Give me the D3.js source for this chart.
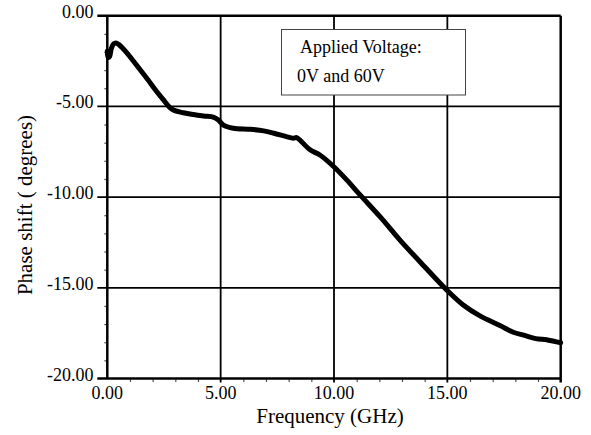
<!DOCTYPE html>
<html>
<head>
<meta charset="utf-8">
<script src="https://cdn.jsdelivr.net/npm/d3@7"></script>
<style>
  body { margin: 0; background: #fff; }
  text { font-family: "Liberation Serif", "Times New Roman", serif; fill: #000; }
</style>
</head>
<body>
<script>
// values
var freq  = [0.00, 0.04, 0.10, 0.18, 0.28, 0.38, 0.50, 0.70, 0.90, 1.15, 1.45, 1.80, 2.10, 2.45, 2.75, 2.95,
             3.35, 3.80, 4.25, 4.70, 4.90, 5.12, 5.56, 6.30, 6.90, 7.35, 7.90, 8.20, 8.35, 8.50, 8.93, 9.38,
             9.97, 10.56, 11.15, 12.03, 12.91, 13.79, 14.97, 15.70, 16.44, 17.32, 17.91, 18.40, 18.90, 19.38, 19.70, 20.00];
var phase = [-1.95, -2.30, -2.25, -1.80, -1.55, -1.50, -1.58, -1.82, -2.10, -2.50, -2.98, -3.55, -4.05, -4.60, -5.05, -5.22,
             -5.35, -5.45, -5.53, -5.60, -5.75, -6.03, -6.20, -6.26, -6.35, -6.48, -6.67, -6.75, -6.72, -6.86, -7.38, -7.68,
             -8.30, -9.05, -9.88, -11.08, -12.37, -13.56, -15.12, -15.95, -16.55, -17.08, -17.45, -17.62, -17.80, -17.86, -17.95, -18.03];

var xTicks = [0, 5, 10, 15, 20];
var xTickLabels = ['0.00', '5.00', '10.00', '15.00', '20.00'];
var yTicks = [0, -5, -10, -15, -20];
var yTickLabels = ['0.00', '-5.00', '-10.00', '-15.00', '-20.00'];
var legendLines = ['Applied Voltage:', '0V and 60V'];

var W = 591, H = 435;
// plot edges (note: "top" is a reserved window property, so use other names)
var pLeft = 107.3, pTop = 15.7, pRight = 560.7, pBottom = 378.5;

var x = d3.scaleLinear().domain([0, 20]).range([pLeft, pRight]);
var y = d3.scaleLinear().domain([-20, 0]).range([pBottom, pTop]);

var svg = d3.select('body').append('svg')
    .attr('width', W)
    .attr('height', H);

// minor ticks every 1 unit
var minorX = d3.range(0, 21).filter(function(d) { return d % 5 != 0; });
var minorY = d3.range(-20, 1).filter(function(d) { return d % 5 != 0; });

svg.append('g')
    .attr('transform', 'translate(0,' + pBottom + ')')
    .call(d3.axisBottom(x).tickValues(minorX).tickSize(3.5).tickFormat(''))
    .call(function(g) { g.select('.domain').remove(); })
    .selectAll('line').attr('stroke', '#555').attr('stroke-width', 1.2);

svg.append('g')
    .attr('transform', 'translate(' + pLeft + ',0)')
    .call(d3.axisLeft(y).tickValues(minorY).tickSize(3).tickFormat(''))
    .call(function(g) { g.select('.domain').remove(); })
    .selectAll('line').attr('stroke', '#555').attr('stroke-width', 1.2);

// grid lines, including the frame
svg.append('g').selectAll('line')
    .data(xTicks)
    .enter().append('line')
    .attr('x1', function(d) { return x(d); })
    .attr('x2', function(d) { return x(d); })
    .attr('y1', pTop)
    .attr('y2', function(d) { return d == 0 ? pBottom : pBottom + 4; })
    .attr('stroke', '#000')
    .attr('stroke-width', function(d) { return (d == 0 || d == 20) ? 2.5 : 1.8; });

svg.append('g').selectAll('line')
    .data(yTicks)
    .enter().append('line')
    .attr('x1', pLeft - 10)
    .attr('x2', pRight)
    .attr('y1', function(d) { return y(d); })
    .attr('y2', function(d) { return y(d); })
    .attr('stroke', '#000')
    .attr('stroke-width', function(d) { return (d == 0 || d == -20) ? 2.5 : 1.8; });

// tick labels
svg.append('g').selectAll('text')
    .data(xTicks)
    .enter().append('text')
    .attr('x', function(d) { return x(d); })
    .attr('y', 398.5)
    .attr('text-anchor', 'middle')
    .style('font-size', '18px')
    .text(function(d, i) { return xTickLabels[i]; });

svg.append('g').selectAll('text')
    .data(yTicks)
    .enter().append('text')
    .attr('x', 93.5)
    .attr('y', function(d) { return y(d) + 2; })
    .attr('text-anchor', 'end')
    .style('font-size', '18px')
    .text(function(d, i) { return yTickLabels[i]; });

// axis titles
svg.append('text')
    .attr('x', 330)
    .attr('y', 423)
    .attr('text-anchor', 'middle')
    .style('font-size', '21px')
    .text('Frequency (GHz)');

svg.append('text')
    .attr('transform', 'translate(32,205) rotate(-90)')
    .attr('text-anchor', 'middle')
    .style('font-size', '21px')
    .text('Phase shift ( degrees)');

// the curve
var pts = freq.map(function(f, i) { return [f, phase[i]]; });
var line = d3.line()
    .x(function(d) { return x(d[0]); })
    .y(function(d) { return y(d[1]); })
    .curve(d3.curveCatmullRom);

svg.append('path')
    .datum(pts)
    .attr('d', line)
    .attr('fill', 'none')
    .attr('stroke', '#000')
    .attr('stroke-width', 5)
    .attr('stroke-linejoin', 'round')
    .attr('stroke-linecap', 'round');

// legend box
var lg = svg.append('g');
lg.append('rect')
    .attr('x', 281.5)
    .attr('y', 29.5)
    .attr('width', 184)
    .attr('height', 65.5)
    .attr('fill', '#fff')
    .attr('stroke', '#444')
    .attr('stroke-width', 1);

lg.selectAll('text')
    .data(legendLines)
    .enter().append('text')
    .attr('x', function(d, i) { return i == 0 ? 300 : 297; })
    .attr('y', function(d, i) { return 52.5 + i * 29; })
    .style('font-size', '18px')
    .text(function(d) { return d; });
</script>
</body>
</html>
